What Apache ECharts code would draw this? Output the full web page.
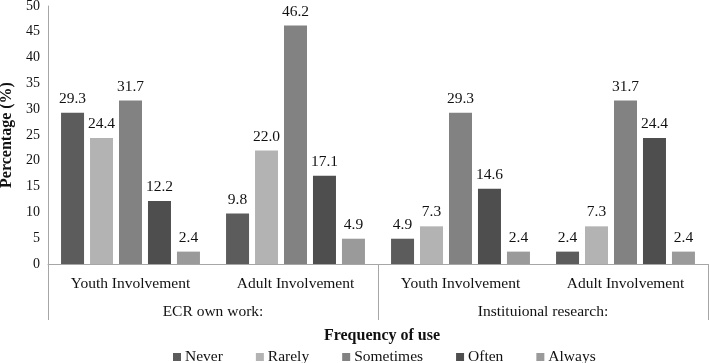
<!DOCTYPE html>
<html>
<head>
<meta charset="utf-8">
<script src="https://cdn.jsdelivr.net/npm/echarts@6/dist/echarts.min.js"></script>
<style>
  html, body { margin: 0; padding: 0; background: #fff; }
  #chart { width: 709px; height: 363px; }
</style>
</head>
<body>
<div id="chart"></div>
<script>
const categories = ['Youth Involvement', 'Adult Involvement', 'Youth Involvement', 'Adult Involvement'];
const groups = ['ECR own work:', 'Instituional research:'];
const seriesNames = ['Never', 'Rarely', 'Sometimes', 'Often', 'Always'];
const never = [29.3, 9.8, 4.9, 2.4];
const rarely = [24.4, 22.0, 7.3, 7.3];
const sometimes = [31.7, 46.2, 29.3, 31.7];
const often = [12.2, 17.1, 14.6, 24.4];
const always = [2.4, 4.9, 2.4, 2.4];
const yTicks = [0, 5, 10, 15, 20, 25, 30, 35, 40, 45, 50];

const values = [never, rarely, sometimes, often, always];
const colors = ['#5c5c5c', '#b3b3b3', '#828282', '#4e4e4e', '#9a9a9a'];
const font = 'Liberation Serif';
const axisGray = '#a6a6a6';
const ink = '#111';

const chart = echarts.init(document.getElementById('chart'));

chart.setOption({
  animation: false,
  textStyle: { fontFamily: font, color: ink },
  title: {
    text: 'Frequency of use',
    left: 377,
    top: 323,
    textAlign: 'center',
    textStyle: { fontFamily: font, fontSize: 16, fontWeight: 'bold', color: ink }
  },
  legend: {
    data: seriesNames,
    left: 168,
    top: 344,
    itemWidth: 8,
    itemHeight: 8,
    itemGap: 33,
    icon: 'rect',
    textStyle: { fontFamily: font, fontSize: 15.5, color: ink, padding: [0, 0, 0, -1] }
  },
  grid: { left: 48, right: 1, top: 6, bottom: 99, outerBoundsMode: 'none', containLabel: false },
  xAxis: [
    {
      type: 'category',
      data: categories,
      axisLine: { lineStyle: { color: axisGray } },
      axisTick: { show: false },
      axisLabel: { fontFamily: font, fontSize: 15.5, color: ink, margin: 12, interval: 0 }
    },
    {
      type: 'category',
      data: groups,
      position: 'bottom',
      axisLine: { show: false },
      axisTick: { show: true, length: 56, lineStyle: { color: axisGray } },
      axisLabel: { fontFamily: font, fontSize: 15.5, color: ink, margin: 40, interval: 0 }
    }
  ],
  yAxis: {
    type: 'value',
    min: yTicks[0],
    max: yTicks[yTicks.length - 1],
    interval: 5,
    name: 'Percentage (%)',
    nameLocation: 'middle',
    nameGap: 31,
    nameTextStyle: { fontFamily: font, fontSize: 16, fontWeight: 'bold', color: ink },
    axisLine: { show: true, lineStyle: { color: axisGray } },
    axisTick: { show: false },
    splitLine: { show: false },
    axisLabel: { fontFamily: font, fontSize: 14, color: ink, margin: 8 }
  },
  series: seriesNames.map((name, i) => ({
    name: name,
    type: 'bar',
    xAxisIndex: 0,
    data: values[i],
    barWidth: 23,
    barGap: '26%',
    itemStyle: { color: colors[i] },
    label: {
      show: true,
      position: 'top',
      distance: 6,
      fontFamily: font,
      fontSize: 15.5,
      color: ink,
      formatter: p => p.value.toFixed(1)
    }
  }))
});
</script>
</body>
</html>
